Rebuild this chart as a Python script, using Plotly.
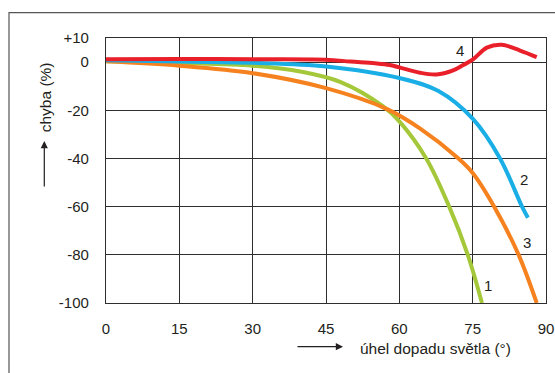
import plotly.graph_objects as go

# Light-incidence error curves: error (%) versus angle of incidence (deg)
angle_1 = [0, 15, 30, 40, 48, 56.7, 60, 65.5, 70.2, 74.0, 76.9]
error_1 = [0.3, -0.4, -1.5, -4.0, -8.3, -18.4, -24.6, -40, -60, -80, -100]

angle_2 = [0, 15, 30, 45, 60, 68, 75, 80.6, 85.1, 86.3]
error_2 = [0.8, 0.2, -0.3, -1.8, -6.6, -12.0, -23.5, -40, -60, -64.6]

angle_3 = [0, 15, 30, 45, 57.5, 64.2, 72.1, 75, 79.4, 84.4, 88.1]
error_3 = [0.3, -1.5, -4.6, -10.8, -19.5, -27.5, -40, -46, -60, -80, -100]

angle_4 = [0, 15, 30, 45, 50, 55, 58, 60, 64.2, 67.6, 71, 73, 75, 77.9, 80.9, 84.7, 88.1]
error_4 = [1.2, 1.3, 1.2, 1.0, 0.2, -0.5, -1.2, -2.2, -4.4, -5.1, -3.4, -1.3, 1.0, 6.0, 7.2, 4.8, 2.1]

curve_names = ["1", "2", "3", "4"]
label_angle = [78.1, 85.5, 86.1, 72.4]
label_error = [-92.9, -48.7, -75.0, 4.8]

x_ticks = [0, 15, 30, 45, 60, 75, 90]
y_ticks = [10, 0, -20, -40, -60, -80, -100]
y_tick_text = ["+10", "0", "-20", "-40", "-60", "-80", "-100"]

x_title = "úhel dopadu světla (°)"
y_title = "chyba (%)"

colors = {"1": "#a5c83a", "2": "#1aaee6", "3": "#f5821f", "4": "#e9202a"}
FONT = "Arial, Liberation Sans, sans-serif"
INK = "#231f20"
GRID = "#2e2e2e"

fig = go.Figure()
series = [("1", angle_1, error_1), ("3", angle_3, error_3),
          ("2", angle_2, error_2), ("4", angle_4, error_4)]
for name, xs, ys in series:
    fig.add_trace(go.Scatter(
        x=xs, y=ys, mode="lines", name=name,
        line=dict(color=colors[name], width=4, shape="spline", smoothing=1.0),
        hoverinfo="skip", showlegend=False,
    ))

# Curve numbers
for name, ax_, ay_ in zip(curve_names, label_angle, label_error):
    fig.add_annotation(x=ax_, y=ay_, text=name, showarrow=False,
                       xanchor="center", yanchor="middle",
                       font=dict(family=FONT, size=15, color=INK))

W, H = 555, 373
L, R, T, B = 106, 9, 37.5, 69.5
pw, ph = W - L - R, H - T - B


def px(xp):
    return (xp - L) / pw


def py(yp):
    return (H - B - yp) / ph


# Outer frame
fig.add_shape(type="rect", xref="paper", yref="paper",
              x0=px(9), y0=py(400), x1=px(580), y1=py(12),
              line=dict(color="#555555", width=1.2), fillcolor="rgba(0,0,0,0)",
              layer="below")

# Axis titles with arrows
fig.add_annotation(xref="paper", yref="paper", x=px(45), y=py(97),
                   xanchor="center", yanchor="middle",
                   text=y_title, textangle=-90, showarrow=False,
                   font=dict(family=FONT, size=15.5, color=INK))
fig.add_annotation(xref="paper", yref="paper", x=px(44.3), y=py(141),
                   ax=0, ay=47, text="", showarrow=True, arrowhead=2,
                   arrowsize=1.2, arrowwidth=1.2, arrowcolor=INK)
fig.add_annotation(xref="paper", yref="paper", x=px(435), y=py(349),
                   xanchor="center", yanchor="middle",
                   text=x_title, showarrow=False,
                   font=dict(family=FONT, size=15.5, color=INK))
fig.add_annotation(xref="paper", yref="paper", x=px(343), y=py(347.3),
                   ax=-47, ay=0, text="", showarrow=True, arrowhead=2,
                   arrowsize=1.2, arrowwidth=1.2, arrowcolor=INK)

fig.update_xaxes(range=[0, 90], tickvals=x_ticks, showgrid=True,
                 gridcolor=GRID, gridwidth=1.3, showline=True, mirror=True,
                 linecolor=GRID, linewidth=1.3, zeroline=False, ticks="",
                 ticklabelstandoff=12, automargin=False,
                 tickfont=dict(family=FONT, size=15, color=INK))
fig.update_yaxes(range=[-100, 10], tickvals=y_ticks, ticktext=y_tick_text,
                 showgrid=True, gridcolor=GRID, gridwidth=1.3, showline=True,
                 mirror=True, linecolor=GRID, linewidth=1.3, zeroline=False,
                 ticks="", ticklabelstandoff=13, automargin=False,
                 tickfont=dict(family=FONT, size=15, color=INK))

fig.update_layout(width=W, height=H, margin=dict(l=L, r=R, t=T, b=B),
                  plot_bgcolor="white", paper_bgcolor="white")

fig.write_html("out.html")
